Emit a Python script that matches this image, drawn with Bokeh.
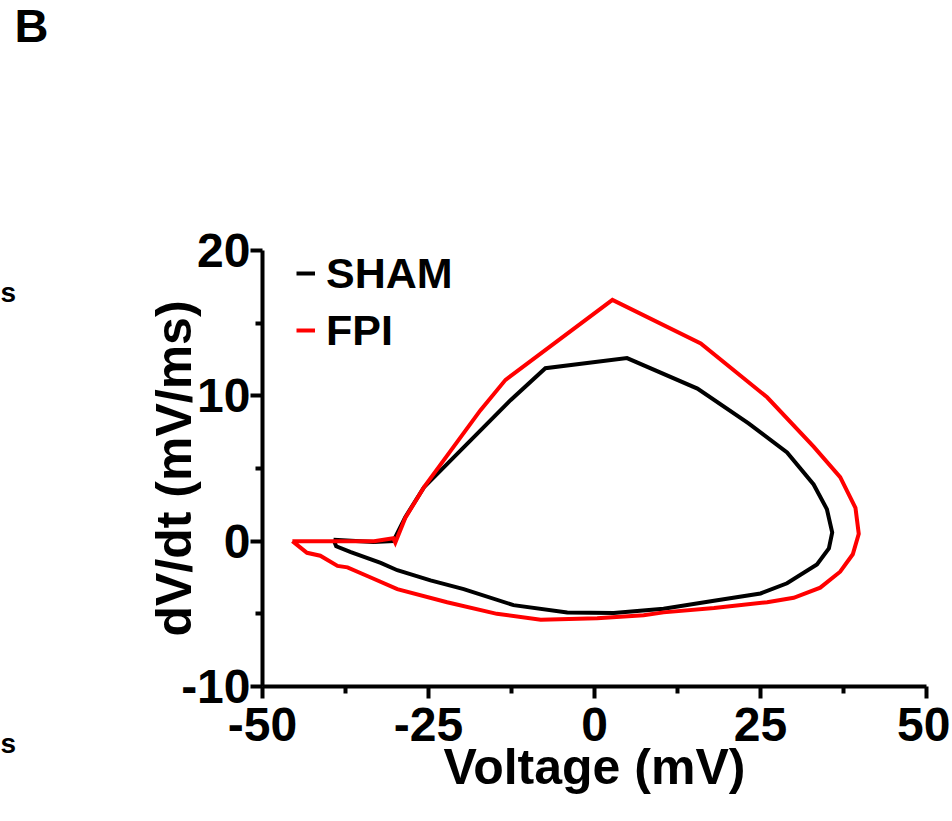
from bokeh.plotting import figure
from bokeh.layouts import row
from bokeh.models import Legend, LegendItem, FixedTicker, Range1d
from bokeh.core.properties import value
from bokeh.embed import file_html
from bokeh.resources import INLINE

# ---- data ----
sham_v = [-39.3, -33.3, -30.3, -28.5, -25.7, -17.2, -12.65, -7.4, 4.9, 15.5, 23.2, 29.0, 33.0,
          35.0, 35.8, 35.3, 33.5, 29.0, 25.0, 18.0, 10.4, 2.9, -4.1, -12.2, -19.7, -24.7,
          -29.7, -32.2, -36.7, -38.9, -39.3]
sham_dvdt = [0.1, -0.05, 0.0, 1.65, 3.7, 7.6, 9.7, 11.9, 12.6, 10.5, 8.1, 6.1, 3.9,
             2.2, 0.6, -0.5, -1.6, -2.9, -3.6, -4.1, -4.65, -4.95, -4.9, -4.4, -3.3, -2.7,
             -2.0, -1.5, -0.75, -0.35, 0.1]

fpi_v = [-45.5, -39.3, -33.2, -30.3, -30.0, -28.5, -25.7, -17.2, -13.4, 2.7, 16.0, 26.0, 33.0,
         37.0, 39.3, 39.8, 38.9, 37.0, 34.0, 30.0, 26.0, 18.0, 10.4, 7.4, 0.4, -8.1, -14.7,
         -22.2, -29.7, -33.7, -37.2, -38.7, -41.3, -43.3, -45.5]
fpi_dvdt = [0.0, 0.0, 0.0, 0.2, -0.1, 1.6, 3.7, 9.0, 11.1, 16.6, 13.6, 9.9, 6.5,
            4.4, 2.3, 0.5, -0.9, -2.1, -3.2, -3.9, -4.2, -4.6, -4.9, -5.1, -5.3, -5.4, -5.0,
            -4.2, -3.3, -2.5, -1.8, -1.7, -1.0, -0.8, 0.0]

x_major = [-50, -25, 0, 25, 50]
x_minor = [-37.5, -12.5, 12.5, 37.5]
y_major = [-10, 0, 10, 20]
y_minor = [-5, 5, 15]
series_names = ["SHAM", "FPI"]
series_colors = ["#000000", "#ff0000"]
panel_letter = "B"
stray_texts = ["s", "s"]          # cut-off fragments of a neighbouring panel

FONT = "Liberation Sans"
W, H = 950, 819
STRIP_W = 60

# ---- left strip: panel letter and fragments of the neighbouring panel ----
strip = figure(width=STRIP_W, height=H, output_backend="svg", toolbar_location=None,
               x_range=Range1d(0, STRIP_W), y_range=Range1d(H, 0),
               x_axis_type=None, y_axis_type=None, min_border=0, title=None,
               background_fill_color="white", border_fill_color="white")
strip.frame_align = False
strip.outline_line_color = None
strip.grid.visible = False
strip.text(x=[14], y=[25], text=[panel_letter], text_font=value(FONT), text_font_style="bold",
           text_font_size="47px", text_baseline="alphabetic", text_align="left", text_color="black")
strip.text(x=[0, 0], y=[292, 743], text=stray_texts, text_font=value(FONT),
           text_font_style="bold", text_font_size="28px", text_baseline="alphabetic",
           text_align="left", text_color="black")

# ---- main chart ----
p = figure(width=W - STRIP_W, height=H, output_backend="svg", toolbar_location=None,
           x_range=Range1d(-50, 50), y_range=Range1d(-10, 20),
           min_border_left=262 - STRIP_W, min_border_right=W - 926, min_border_top=250,
           min_border_bottom=H - 686, background_fill_color="white", border_fill_color="white")
p.frame_align = False
p.outline_line_color = None
p.grid.visible = False

r_sham = p.line(sham_v, sham_dvdt, line_color=series_colors[0], line_width=4, line_join="miter")
r_fpi = p.line(fpi_v, fpi_dvdt, line_color=series_colors[1], line_width=4, line_join="miter")

p.xaxis.ticker = FixedTicker(ticks=x_major, minor_ticks=x_minor)
p.yaxis.ticker = FixedTicker(ticks=y_major, minor_ticks=y_minor)
p.xaxis.major_label_overrides = {t: str(t) for t in x_major}
p.yaxis.major_label_overrides = {t: str(t) for t in y_major}
p.xaxis.axis_label = "Voltage (mV)"
p.yaxis.axis_label = "dV/dt (mV/ms)"

for ax in (p.xaxis[0], p.yaxis[0]):
    ax.axis_line_width = 4
    ax.axis_line_color = "black"
    ax.major_tick_line_width = 4
    ax.minor_tick_line_width = 4
    ax.major_tick_line_color = "black"
    ax.minor_tick_line_color = "black"
    ax.major_tick_in = 0
    ax.minor_tick_in = 0
    ax.major_tick_out = 12
    ax.minor_tick_out = 7
    ax.major_label_text_font = FONT
    ax.major_label_text_font_style = "bold"
    ax.major_label_text_font_size = "48px"
    ax.major_label_text_color = "black"
    ax.axis_label_text_font = FONT
    ax.axis_label_text_font_style = "bold"
    ax.axis_label_text_font_size = "50px"
    ax.axis_label_text_color = "black"

p.xaxis.major_label_standoff = 9
p.yaxis.major_label_standoff = 0
p.xaxis.axis_label_standoff = -5
p.yaxis.axis_label_standoff = -24

legend = Legend(items=[LegendItem(label=series_names[0], renderers=[r_sham]),
                       LegendItem(label=series_names[1], renderers=[r_fpi])],
                location=(34, 330), orientation="vertical",
                label_text_font=FONT, label_text_font_style="bold",
                label_text_font_size="43px", label_text_color="black",
                glyph_width=19, glyph_height=52, label_height=52, label_width=140,
                label_standoff=11, spacing=5, padding=0, margin=0,
                border_line_color=None, background_fill_alpha=0)
p.add_layout(legend)

layout = row(strip, p, spacing=0)
open("out.html", "w").write(file_html(layout, INLINE))
